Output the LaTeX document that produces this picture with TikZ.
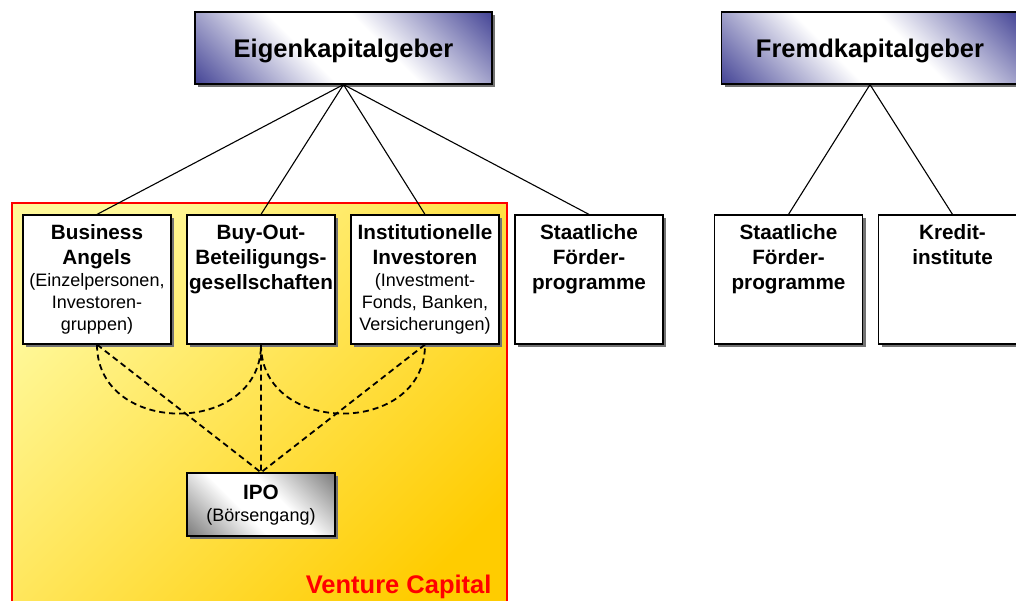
\documentclass[tikz,border=0pt]{standalone}
\usepackage{fontspec}
\setmainfont{Liberation Sans}
\usetikzlibrary{positioning,shadows}

\definecolor{kopfblau}{RGB}{51,51,140}
\definecolor{ipograu}{RGB}{110,110,110}
\definecolor{vchell}{RGB}{255,248,153}
\definecolor{vcgold}{RGB}{255,204,0}
\definecolor{vcrot}{RGB}{255,0,0}

\pgfdeclarehorizontalshading{kopfverlauf}{100bp}{color(0bp)=(kopfblau); color(12bp)=(kopfblau);
  color(42bp)=(white); color(58bp)=(white); color(88bp)=(kopfblau); color(100bp)=(kopfblau)}
\pgfdeclarehorizontalshading{ipoverlauf}{100bp}{color(0bp)=(ipograu); color(12bp)=(ipograu);
  color(42bp)=(white); color(58bp)=(white); color(88bp)=(ipograu); color(100bp)=(ipograu)}

\newcommand{\titel}{\fontsize{20.7}{25}\selectfont\bfseries}
\newcommand{\unter}{\fontsize{18}{22}\selectfont}
\newcommand{\inhalt}[3]{\parbox[c][#1pt][t]{148pt}{\centering\vspace*{#2pt}#3}}

\begin{document}
\begin{tikzpicture}[x=1pt,y=-1pt,node distance=14.8pt,
  schatten/.style={drop shadow={shadow xshift=3pt,shadow yshift=-3pt,fill=black!55,opacity=1}},
  kopf/.style={draw,line width=1.2,schatten,minimum width=297,minimum height=72,inner sep=0pt,
    shading=kopfverlauf,shading angle=45,
    text depth=0pt,font=\fontsize{25.5}{30}\selectfont\bfseries},
  kasten/.style={draw,line width=1.2,fill=white,schatten,inner sep=0pt},
  ipokasten/.style={kasten,shading=ipoverlauf,shading angle=45},
  verbindung/.style={line width=1.1},
  weg/.style={dashed,dash pattern=on 6pt off 4pt,line width=1.8}]

  \clip (0,0) rectangle (1016,601);

  % Venture Capital Bereich
  \shade[draw=vcrot,line width=2,top color=vchell,bottom color=vcgold,shading angle=45]
    (12,203) rectangle (507,640);
  \node[anchor=base east,text=vcrot,font=\fontsize{25.5}{30}\selectfont\bfseries] (vc) at (495,593) {Venture Capital};

  % Kapitalgeber
  \node[kopf] (ek) at (343.5,48) {Eigenkapitalgeber};
  \node[kopf] (fk) at (870,48) {Fremdkapitalgeber};

  \node[kasten] (ba) at (97,279.5) {\inhalt{129}{10}{{\titel Business\\Angels\par}{\unter (Einzelpersonen,\\Investoren-\\gruppen)\par}}};
  \node[kasten] (bo) [right=of ba] {\inhalt{129}{10}{{\titel Buy-Out-\\Beteiligungs-\\gesellschaften\par}}};
  \node[kasten] (ii) [right=of bo] {\inhalt{129}{10}{{\titel Institutionelle\\Investoren\par}{\unter (Investment-\\Fonds, Banken,\\Versicherungen)\par}}};
  \node[kasten] (sf) [right=of ii] {\inhalt{129}{10}{{\titel Staatliche\\Förder-\\programme\par}}};

  \node[kasten] (sf2) at (788.5,279.5) {\inhalt{129}{10}{{\titel Staatliche\\Förder-\\programme\par}}};
  \node[kasten] (kr) [right=of sf2] {\inhalt{129}{10}{{\titel Kredit-\\institute\par}}};

  \node[ipokasten] (ipo) at (261,504.5) {\inhalt{63}{12}{{\titel IPO\par}{\unter (Börsengang)\par}}};

  \draw[verbindung] (ek.south) -- (ba.north);
  \draw[verbindung] (ek.south) -- (bo.north);
  \draw[verbindung] (ek.south) -- (ii.north);
  \draw[verbindung] (ek.south) -- (sf.north);
  \draw[verbindung] (fk.south) -- (sf2.north);
  \draw[verbindung] (fk.south) -- (kr.north);

  % Wege zum Boersengang
  \draw[weg] (ba.south) -- (ipo.north);
  \draw[weg] (bo.south) -- (ipo.north);
  \draw[weg] (ii.south) -- (ipo.north);
  \draw[weg] (ba.south) .. controls +(0,92) and +(0,92) .. (bo.south);
  \draw[weg] (bo.south) .. controls +(0,92) and +(0,92) .. (ii.south);

\end{tikzpicture}
\end{document}
